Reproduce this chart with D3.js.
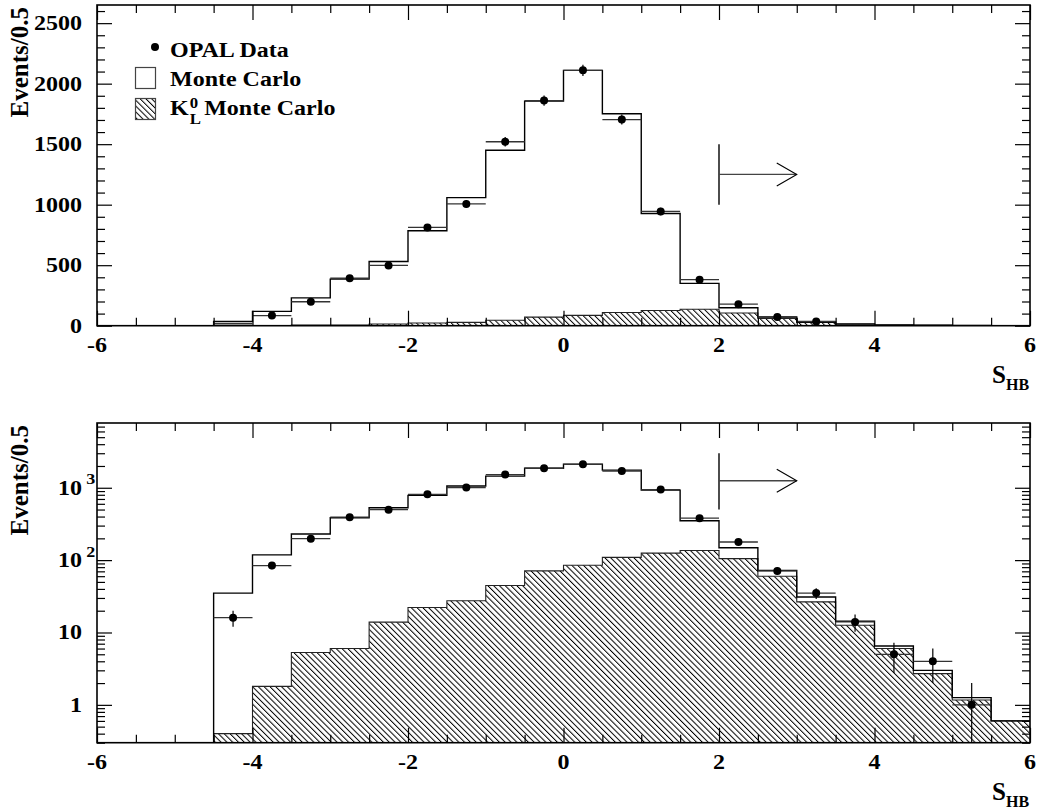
<!DOCTYPE html>
<html>
<head>
<meta charset="utf-8">
<script src="https://cdn.jsdelivr.net/npm/d3@7"></script>
<style>
  html, body { margin: 0; padding: 0; background: #fff; }
  svg { display: block; }
  text { font-family: "Liberation Serif", "Times New Roman", serif; font-weight: bold; fill: #000; }
</style>
</head>
<body>
<svg id="chart" width="1037" height="812"></svg>
<script>
// S_HB distribution, bins of width 0.5 (lower edges)
const binLow = [-6, -5.5, -5, -4.5, -4, -3.5, -3, -2.5, -2, -1.5, -1, -0.5,
                 0, 0.5, 1, 1.5, 2, 2.5, 3, 3.5, 4, 4.5, 5, 5.5];
const binWidth = 0.5;

// OPAL data (events per bin)
const dataEvents = [0, 0, 0, 16, 84, 198, 392, 498, 812, 1006, 1520, 1860,
                    2110, 1703, 944, 380, 178, 71, 35, 14, 5, 4, 1, 0];
// Full Monte Carlo prediction
const mcEvents = [0, 0, 0, 35, 118, 230, 385, 530, 785, 1058, 1450, 1856,
                  2110, 1752, 927, 350, 148, 72, 31, 14.3, 6.5, 3.0, 1.26, 0.6];
// K0_L component of the Monte Carlo
const k0lEvents = [0, 0, 0, 0.4, 1.8, 5.3, 6.0, 13.9, 22.2, 27.4, 44.7, 71,
                   85, 109, 125, 136, 105, 60, 26.5, 12.6, 6.0, 2.7, 1.17, 0.6];

// Axis labels
const xTickLabels = ["-6", "-4", "-2", "0", "2", "4", "6"];
const xTickValues = [-6, -4, -2, 0, 2, 4, 6];
const linTickValues = [0, 500, 1000, 1500, 2000, 2500];
const logTickValues = [1, 10, 100, 1000];
const logTickBase = ["1", "10", "10", "10"];
const logTickExp = ["", "", "2", "3"];

// Selection cut: S_HB > 2
const cutValue = 2;
const arrowEnd = 3;

const svg = d3.select("#chart");
const left = 97, right = 1030;
const markerR = 4;
const x = d3.scaleLinear().domain([-6, 6]).range([left, right]);

// pattern for the K0_L hatch
const defs = svg.append("defs");
const pat = defs.append("pattern")
  .attr("id", "hatch")
  .attr("patternUnits", "userSpaceOnUse")
  .attr("width", 4.1).attr("height", 10)
  .attr("patternTransform", "rotate(-45)");
pat.append("line")
  .attr("x1", 0.5).attr("y1", 0).attr("x2", 0.5).attr("y2", 10)
  .attr("stroke", "#000").attr("stroke-width", 1);

const panels = [
  { id: "lin", top: 5, bottom: 325.7, scale: d3.scaleLinear().domain([0, 2650]) },
  { id: "log", top: 423, bottom: 742.7, scale: d3.scaleLog().domain([0.3, 7850]).clamp(true) }
];

panels.forEach(p => {
  const y = p.scale.range([p.bottom, p.top]);
  const isLog = p.id === "log";
  const yv = v => y(isLog ? Math.max(v, 0.01) : v);
  const g = svg.append("g");

  defs.append("clipPath").attr("id", "clip-" + p.id)
    .append("rect")
    .attr("x", left).attr("y", p.top)
    .attr("width", right - left).attr("height", p.bottom - p.top);

  const plot = g.append("g").attr("clip-path", `url(#clip-${p.id})`);

  const stepPts = vals => {
    const pts = binLow.map((b, i) => [b, vals[i]]);
    pts.push([binLow[binLow.length - 1] + binWidth, vals[vals.length - 1]]);
    return pts;
  };

  // K0_L hatched histogram
  const area = d3.area()
    .curve(d3.curveStepAfter)
    .x(d => x(d[0]))
    .y0(p.bottom)
    .y1(d => yv(d[1]));
  const line = d3.line()
    .curve(d3.curveStepAfter)
    .x(d => x(d[0]))
    .y(d => yv(d[1]));

  plot.append("path")
    .datum(stepPts(k0lEvents))
    .attr("d", area)
    .attr("fill", "url(#hatch)");
  plot.append("path")
    .datum(stepPts(k0lEvents))
    .attr("d", line)
    .attr("fill", "none").attr("stroke", "#222").attr("stroke-width", 1.1);

  // Monte Carlo histogram
  plot.append("path")
    .datum(stepPts(mcEvents))
    .attr("d", line)
    .attr("fill", "none").attr("stroke", "#000").attr("stroke-width", 1.4);

  // Data points with errors
  const pts = binLow.map((b, i) => ({ lo: b, hi: b + binWidth, c: b + binWidth / 2, v: dataEvents[i] }))
    .filter(d => d.v > 0);
  const pg = plot.append("g");
  pg.selectAll("line.xerr").data(pts).join("line")
    .attr("class", "xerr")
    .attr("x1", d => x(d.lo)).attr("x2", d => x(d.hi))
    .attr("y1", d => yv(d.v)).attr("y2", d => yv(d.v))
    .attr("stroke", "#333").attr("stroke-width", 1.3);
  // markers (and their vertical bars) are skipped when they would sit on the frame
  const inside = pts.filter(d => p.bottom - yv(d.v) > 3.5);
  pg.selectAll("line.yerr").data(inside).join("line")
    .attr("class", "yerr")
    .attr("x1", d => x(d.c)).attr("x2", d => x(d.c))
    .attr("y1", d => yv(d.v - Math.sqrt(d.v))).attr("y2", d => yv(d.v + Math.sqrt(d.v)))
    .attr("stroke", "#000").attr("stroke-width", 1.2);
  pg.selectAll("circle").data(inside).join("circle")
    .attr("cx", d => x(d.c)).attr("cy", d => yv(d.v)).attr("r", markerR)
    .attr("fill", "#000");

  // Cut arrow
  const arrowLo = isLog ? 500 : 1000;
  const arrowHi = isLog ? 3000 : 1500;
  const arrowY = 1250;
  g.append("line")
    .attr("x1", x(cutValue)).attr("x2", x(cutValue))
    .attr("y1", y(arrowLo)).attr("y2", y(arrowHi))
    .attr("stroke", "#000").attr("stroke-width", 1.4);
  g.append("line")
    .attr("x1", x(cutValue)).attr("x2", x(arrowEnd))
    .attr("y1", y(arrowY)).attr("y2", y(arrowY))
    .attr("stroke", "#444").attr("stroke-width", 1.3);
  g.append("path")
    .attr("d", `M${x(arrowEnd) - 20},${y(arrowY) - 11.5} L${x(arrowEnd)},${y(arrowY)} L${x(arrowEnd) - 20},${y(arrowY) + 11.5}`)
    .attr("fill", "none").attr("stroke", "#000").attr("stroke-width", 1.1);

  // Ticks on all four sides, pointing inward
  const minorX = d3.range(-6, 6.001, 0.5).filter(v => !xTickValues.includes(v));
  let majorY, minorY;
  if (isLog) {
    majorY = logTickValues;
    minorY = [];
    [0.1, 1, 10, 100, 1000].forEach(dec => {
      for (let k = 2; k <= 9; k++) {
        const v = k * dec;
        if (v >= 0.3 && v <= 7850) minorY.push(v);
      }
    });
  } else {
    majorY = linTickValues;
    minorY = d3.range(0, 2650, 100).filter(v => !linTickValues.includes(v));
  }
  const tickStyle = sel => {
    sel.select(".domain").remove();
    sel.selectAll(".tick line").attr("stroke", "#000").attr("stroke-width", 1.2);
    sel.selectAll(".tick text").remove();
  };
  [[xTickValues, 15], [minorX, 8]].forEach(([vals, len]) => {
    g.append("g").attr("transform", `translate(0,${p.bottom})`)
      .call(d3.axisBottom(x).tickValues(vals).tickSize(-len).tickFormat("")).call(tickStyle);
    g.append("g").attr("transform", `translate(0,${p.top})`)
      .call(d3.axisTop(x).tickValues(vals).tickSize(-len).tickFormat("")).call(tickStyle);
  });
  [[majorY, 15], [minorY, 8]].forEach(([vals, len]) => {
    g.append("g").attr("transform", `translate(${left},0)`)
      .call(d3.axisLeft(y).tickValues(vals).tickSize(-len).tickFormat("")).call(tickStyle);
    g.append("g").attr("transform", `translate(${right},0)`)
      .call(d3.axisRight(y).tickValues(vals).tickSize(-len).tickFormat("")).call(tickStyle);
  });

  // Frame
  g.append("rect")
    .attr("x", left).attr("y", p.top)
    .attr("width", right - left).attr("height", p.bottom - p.top)
    .attr("fill", "none").attr("stroke", "#000").attr("stroke-width", 1.6);

  // X tick labels
  g.selectAll("g.xlab").data(xTickValues).join("g")
    .attr("class", "xlab")
    .attr("transform", d => `translate(${x(d)},${p.bottom + 26.5}) scale(1.2,1)`)
    .append("text")
    .attr("text-anchor", "middle")
    .attr("font-size", 20)
    .text((d, i) => xTickLabels[i]);

  // Y tick labels
  if (isLog) {
    const lab = g.selectAll("g.ylab").data(logTickValues).join("g")
      .attr("class", "ylab")
      .attr("transform", d => `translate(82,${y(d)}) scale(1.2,1)`);
    lab.append("text")
      .attr("text-anchor", "end").attr("dy", "0.35em").attr("font-size", 20)
      .text((d, i) => logTickBase[i]);
    lab.append("text")
      .attr("x", 3.5).attr("y", -3.5).attr("font-size", 15)
      .text((d, i) => logTickExp[i]);
  } else {
    g.selectAll("g.ylab").data(linTickValues).join("g")
      .attr("class", "ylab")
      .attr("transform", d => `translate(82,${y(d)}) scale(1.2,1)`)
      .append("text")
      .attr("text-anchor", "end").attr("dy", "0.35em").attr("font-size", 20)
      .text(d => String(d));
  }

  // Axis titles
  g.append("text")
    .attr("transform", `translate(28,${p.top + 2}) rotate(-90)`)
    .attr("text-anchor", "end").attr("font-size", 25)
    .text("Events/0.5");
  g.append("text")
    .attr("x", 1006).attr("y", p.bottom + 57.5)
    .attr("text-anchor", "end").attr("font-size", 25)
    .text("S");
  g.append("text")
    .attr("x", 1006).attr("y", p.bottom + 64.5)
    .attr("font-size", 16)
    .text("HB");
});

// Legend (upper panel)
const leg = svg.append("g");
leg.append("circle").attr("cx", 155).attr("cy", 47).attr("r", markerR).attr("fill", "#000");
leg.append("rect").attr("x", 135.5).attr("y", 67.5).attr("width", 20).attr("height", 21)
  .attr("fill", "#fff").attr("stroke", "#444").attr("stroke-width", 1.2);
leg.append("rect").attr("x", 135.5).attr("y", 98.5).attr("width", 20).attr("height", 21)
  .attr("fill", "url(#hatch)").attr("stroke", "#444").attr("stroke-width", 1.2);

const legText = (yBase) => leg.append("g").attr("transform", `translate(170,${yBase}) scale(1.2,1)`);
legText(56.5).append("text").attr("font-size", 20).text("OPAL Data");
legText(85.5).append("text").attr("font-size", 20).text("Monte Carlo");
const k = legText(114.5);
k.append("text").attr("font-size", 20).text("K");
k.append("text").attr("x", 16.5).attr("y", -7).attr("font-size", 14).text("0");
k.append("text").attr("x", 16.5).attr("y", 9).attr("font-size", 14).text("L");
k.append("text").attr("x", 28.5).attr("font-size", 20).text("Monte Carlo");
</script>
</body>
</html>
